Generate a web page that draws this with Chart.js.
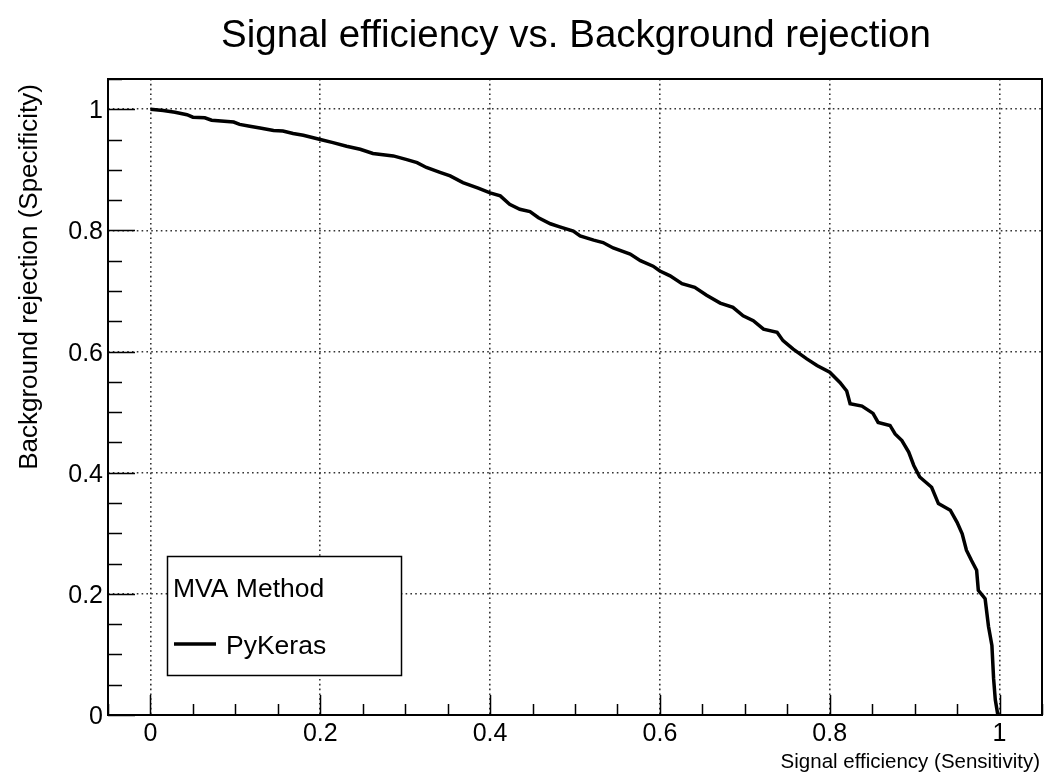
<!DOCTYPE html>
<html>
<head>
<meta charset="utf-8">
<script src="https://cdn.jsdelivr.net/npm/chart.js@4.4.1/dist/chart.umd.min.js"></script>
<style>
  html, body { margin: 0; padding: 0; background: #ffffff; }
  canvas { display: block; }
</style>
</head>
<body>
<canvas id="roc" width="1045" height="776"></canvas>
<script>
// ROC curve of the PyKeras classifier: signal efficiency vs. background rejection
const signalEff = [
  0.000, 0.015, 0.029, 0.043, 0.050, 0.064, 0.072, 0.098, 0.105, 0.117,
  0.129, 0.145, 0.156, 0.168, 0.180, 0.200, 0.215, 0.231, 0.247, 0.262,
  0.286, 0.302, 0.314, 0.325, 0.341, 0.353, 0.368, 0.386, 0.400, 0.412,
  0.423, 0.435, 0.447, 0.457, 0.471, 0.482, 0.498, 0.506, 0.522, 0.533,
  0.545, 0.565, 0.577, 0.592, 0.600, 0.612, 0.626, 0.641, 0.655, 0.671,
  0.686, 0.698, 0.710, 0.722, 0.738, 0.745, 0.757, 0.773, 0.785, 0.800,
  0.812, 0.820, 0.824, 0.838, 0.851, 0.857, 0.871, 0.877, 0.885, 0.893,
  0.899, 0.906, 0.920, 0.928, 0.942, 0.950, 0.956, 0.961, 0.967, 0.973,
  0.975, 0.983, 0.987, 0.991, 0.993, 0.995, 0.998
];
const bkgRejection = [
  1.000, 0.998, 0.995, 0.991, 0.987, 0.986, 0.982, 0.979, 0.975, 0.972,
  0.969, 0.965, 0.964, 0.960, 0.957, 0.950, 0.945, 0.939, 0.934, 0.927,
  0.923, 0.917, 0.912, 0.904, 0.896, 0.890, 0.879, 0.870, 0.862, 0.857,
  0.843, 0.835, 0.831, 0.821, 0.811, 0.806, 0.799, 0.791, 0.784, 0.780,
  0.771, 0.761, 0.750, 0.741, 0.733, 0.725, 0.712, 0.706, 0.693, 0.680,
  0.673, 0.659, 0.651, 0.637, 0.632, 0.618, 0.604, 0.588, 0.577, 0.566,
  0.549, 0.535, 0.514, 0.510, 0.498, 0.483, 0.478, 0.464, 0.453, 0.434,
  0.412, 0.393, 0.376, 0.349, 0.338, 0.318, 0.299, 0.272, 0.255, 0.239,
  0.206, 0.192, 0.146, 0.115, 0.060, 0.025, 0.000
];

const xTickValues = [0, 0.2, 0.4, 0.6, 0.8, 1];
const xTickLabels = ['0', '0.2', '0.4', '0.6', '0.8', '1'];
const yTickValues = [0, 0.2, 0.4, 0.6, 0.8, 1];
const yTickLabels = ['0', '0.2', '0.4', '0.6', '0.8', '1'];

const plotTitle = 'Signal efficiency vs. Background rejection';
const xAxisTitle = 'Signal efficiency (Sensitivity)';
const yAxisTitle = 'Background rejection (Specificity)';
const legendHeader = 'MVA Method';
const seriesName = 'PyKeras';

const FONT = '"Liberation Sans", Arial, Helvetica, sans-serif';

// ROOT-like decorations: frame, inward ticks, labels, titles and legend box
const rootStyle = {
  id: 'rootStyle',
  afterDraw(chart) {
    const { ctx, chartArea: a, scales: { x, y } } = chart;
    ctx.save();
    ctx.setLineDash([]);
    ctx.strokeStyle = '#000';
    ctx.fillStyle = '#000';

    // inward tick marks every 0.05, longer at the labelled divisions
    ctx.lineWidth = 1.5;
    ctx.beginPath();
    for (let k = Math.ceil(x.min / 0.05 - 1e-6); k * 0.05 <= x.max + 1e-6; k++) {
      const px = Math.round(x.getPixelForValue(k * 0.05)) + 0.5;
      const len = (k % 4 === 0) ? 20 : 11;
      ctx.moveTo(px, a.bottom);
      ctx.lineTo(px, a.bottom - len);
    }
    for (let k = Math.ceil(y.min / 0.05 - 1e-6); k * 0.05 <= y.max + 1e-6; k++) {
      const py = Math.round(y.getPixelForValue(k * 0.05)) + 0.5;
      const len = (k % 4 === 0) ? 27 : 14;
      ctx.moveTo(a.left, py);
      ctx.lineTo(a.left + len, py);
    }
    ctx.stroke();

    // frame
    ctx.lineWidth = 2;
    ctx.strokeRect(a.left, a.top, a.right - a.left, a.bottom - a.top);

    // tick labels
    ctx.font = '25px ' + FONT;
    ctx.textBaseline = 'alphabetic';
    ctx.textAlign = 'center';
    xTickValues.forEach((v, i) => {
      ctx.fillText(xTickLabels[i], x.getPixelForValue(v), a.bottom + 26);
    });
    ctx.textAlign = 'right';
    yTickValues.forEach((v, i) => {
      ctx.fillText(yTickLabels[i], a.left - 5, y.getPixelForValue(v) + 9);
    });

    // axis titles, aligned to the far end of each axis
    ctx.font = '20.5px ' + FONT;
    ctx.textAlign = 'right';
    ctx.fillText(xAxisTitle, a.right - 2, 768);
    ctx.save();
    ctx.font = '26px ' + FONT;
    ctx.translate(37, a.top + 5);
    ctx.rotate(-Math.PI / 2);
    ctx.textAlign = 'right';
    ctx.fillText(yAxisTitle, 0, 0);
    ctx.restore();

    // main title
    ctx.font = '38.5px ' + FONT;
    ctx.textAlign = 'center';
    ctx.fillText(plotTitle, 576, 47);

    // legend box
    const lx = 167, ly = 556, lw = 234, lh = 119;
    ctx.fillStyle = '#fff';
    ctx.fillRect(lx, ly, lw, lh);
    ctx.lineWidth = 1.5;
    ctx.strokeStyle = '#000';
    ctx.strokeRect(lx + 0.5, ly + 0.5, lw, lh);
    ctx.fillStyle = '#000';
    ctx.font = '26.5px ' + FONT;
    ctx.textAlign = 'left';
    ctx.fillText(legendHeader, 173, 596.5);
    const ds = chart.data.datasets[0];
    ctx.lineWidth = ds.borderWidth;
    ctx.strokeStyle = ds.borderColor;
    ctx.beginPath();
    ctx.moveTo(174, 644);
    ctx.lineTo(216, 644);
    ctx.stroke();
    ctx.fillText(ds.label, 226, 653.5);

    ctx.restore();
  }
};

const points = signalEff.map((v, i) => ({ x: v, y: bkgRejection[i] }));

new Chart(document.getElementById('roc'), {
  type: 'line',
  data: {
    datasets: [{
      label: seriesName,
      data: points,
      borderColor: '#000',
      borderWidth: 3.5,
      pointRadius: 0,
      fill: false,
      tension: 0,
      borderJoinStyle: 'miter'
    }]
  },
  options: {
    responsive: false,
    animation: false,
    devicePixelRatio: 1,
    layout: { padding: { left: 108, top: 79, right: 3, bottom: 61 } },
    plugins: {
      legend: { display: false },
      title: { display: false },
      tooltip: { enabled: false }
    },
    scales: {
      x: {
        type: 'linear',
        min: -0.05,
        max: 1.05,
        afterBuildTicks: (s) => { s.ticks = xTickValues.map(v => ({ value: v })); },
        ticks: { display: false },
        grid: { color: '#333', lineWidth: 1.6, drawTicks: false },
        border: { display: false, dash: [1.6, 3.2] }
      },
      y: {
        type: 'linear',
        min: 0,
        max: 1.05,
        afterBuildTicks: (s) => { s.ticks = yTickValues.map(v => ({ value: v })); },
        ticks: { display: false },
        grid: { color: '#333', lineWidth: 1.6, drawTicks: false },
        border: { display: false, dash: [1.6, 3.2] }
      }
    }
  },
  plugins: [rootStyle]
});
</script>
</body>
</html>
